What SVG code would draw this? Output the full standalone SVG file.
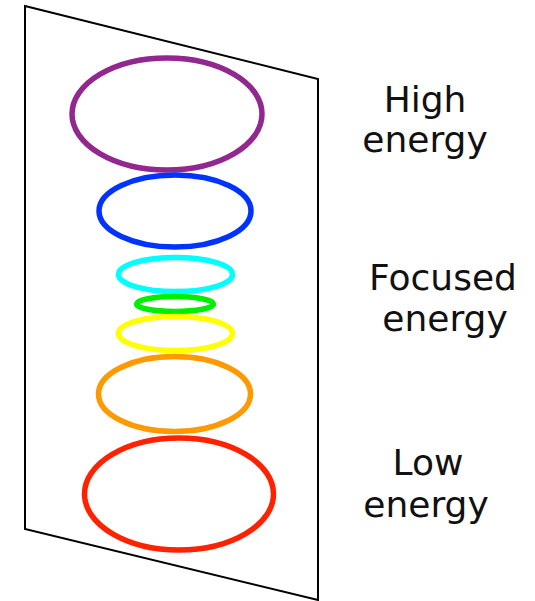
<svg xmlns="http://www.w3.org/2000/svg" width="535" height="601" viewBox="0 0 535 601">
<style>
.plane{fill:#fff;stroke:#000;stroke-width:2}
.ring{fill:none;stroke-width:5.5}
.lbl{font-family:"DejaVu Sans","Liberation Sans",sans-serif;font-size:36px;fill:#111;text-anchor:middle}
</style>
<rect width="535" height="601" fill="#fff"/>
<g id="plane"><polygon class="plane" points="25,6 318,79 318,600 25,529"/></g>
<g id="rings">
<ellipse id="purple" class="ring" cx="167" cy="114" rx="95" ry="56" stroke="#92278F"/>
<ellipse id="blue" class="ring" cx="175" cy="211" rx="76" ry="36" stroke="#0033FF"/>
<ellipse id="cyan" class="ring" cx="175.5" cy="274.5" rx="57" ry="17" stroke="#00FFFF"/>
<ellipse id="green" class="ring" cx="175" cy="304" rx="38.5" ry="7.5" stroke="#00EE00"/>
<ellipse id="yellow" class="ring" cx="175.5" cy="333.5" rx="57" ry="17" stroke="#FFFF00"/>
<ellipse id="orange" class="ring" cx="174.5" cy="394" rx="76" ry="37.5" stroke="#FF9900"/>
<ellipse id="red" class="ring" cx="179" cy="494" rx="94.5" ry="56" stroke="#FF2200"/>
</g>
<g id="labels">
<text class="lbl" x="425" y="112">High</text>
<text class="lbl" x="425" y="152">energy</text>
<text class="lbl" x="443" y="290">Focused</text>
<text class="lbl" x="445" y="331">energy</text>
<text class="lbl" x="428" y="475">Low</text>
<text class="lbl" x="426" y="517">energy</text>
</g>
</svg>
